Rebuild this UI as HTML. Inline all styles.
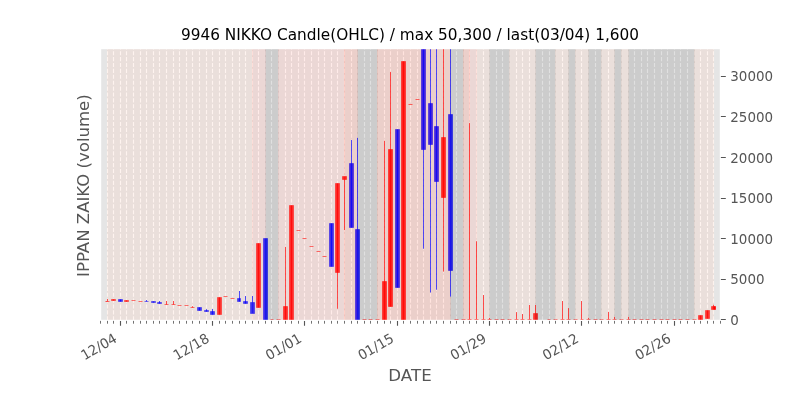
<!DOCTYPE html>
<html><head><meta charset="utf-8"><title>9946 NIKKO Candle(OHLC)</title>
<style>html,body{margin:0;padding:0;background:#fff}body{width:800px;height:400px;overflow:hidden}svg{display:block}</style>
</head><body>
<svg width="800" height="400" viewBox="0 0 800 400">
<rect x="0" y="0" width="800" height="400" fill="#ffffff"/>
<clipPath id="axclip"><rect x="100" y="48" width="620" height="272"/></clipPath>
<rect x="100" y="48" width="620" height="272" fill="#e5e5e5"/>
<g clip-path="url(#axclip)">
<g stroke="#ffffff" stroke-width="1.11" stroke-dasharray="4.11 1.78" fill="none">
<path d="M100.5 320.36V40"/>
<path d="M107.5 320.36V40"/>
<path d="M113.5 320.36V40"/>
<path d="M120.5 320.36V40"/>
<path d="M126.5 320.36V40"/>
<path d="M133.5 320.36V40"/>
<path d="M140.5 320.36V40"/>
<path d="M146.5 320.36V40"/>
<path d="M153.5 320.36V40"/>
<path d="M159.5 320.36V40"/>
<path d="M166.5 320.36V40"/>
<path d="M173.5 320.36V40"/>
<path d="M179.5 320.36V40"/>
<path d="M186.5 320.36V40"/>
<path d="M192.5 320.36V40"/>
<path d="M199.5 320.36V40"/>
<path d="M206.5 320.36V40"/>
<path d="M212.5 320.36V40"/>
<path d="M219.5 320.36V40"/>
<path d="M225.5 320.36V40"/>
<path d="M232.5 320.36V40"/>
<path d="M239.5 320.36V40"/>
<path d="M245.5 320.36V40"/>
<path d="M252.5 320.36V40"/>
<path d="M258.5 320.36V40"/>
<path d="M265.5 320.36V40"/>
<path d="M271.5 320.36V40"/>
<path d="M278.5 320.36V40"/>
<path d="M285.5 320.36V40"/>
<path d="M291.5 320.36V40"/>
<path d="M298.5 320.36V40"/>
<path d="M304.5 320.36V40"/>
<path d="M311.5 320.36V40"/>
<path d="M318.5 320.36V40"/>
<path d="M324.5 320.36V40"/>
<path d="M331.5 320.36V40"/>
<path d="M337.5 320.36V40"/>
<path d="M344.5 320.36V40"/>
<path d="M351.5 320.36V40"/>
<path d="M357.5 320.36V40"/>
<path d="M364.5 320.36V40"/>
<path d="M370.5 320.36V40"/>
<path d="M377.5 320.36V40"/>
<path d="M384.5 320.36V40"/>
<path d="M390.5 320.36V40"/>
<path d="M397.5 320.36V40"/>
<path d="M403.5 320.36V40"/>
<path d="M410.5 320.36V40"/>
<path d="M417.5 320.36V40"/>
<path d="M423.5 320.36V40"/>
<path d="M430.5 320.36V40"/>
<path d="M436.5 320.36V40"/>
<path d="M443.5 320.36V40"/>
<path d="M450.5 320.36V40"/>
<path d="M456.5 320.36V40"/>
<path d="M463.5 320.36V40"/>
<path d="M469.5 320.36V40"/>
<path d="M476.5 320.36V40"/>
<path d="M483.5 320.36V40"/>
<path d="M489.5 320.36V40"/>
<path d="M496.5 320.36V40"/>
<path d="M502.5 320.36V40"/>
<path d="M509.5 320.36V40"/>
<path d="M516.5 320.36V40"/>
<path d="M522.5 320.36V40"/>
<path d="M529.5 320.36V40"/>
<path d="M535.5 320.36V40"/>
<path d="M542.5 320.36V40"/>
<path d="M549.5 320.36V40"/>
<path d="M555.5 320.36V40"/>
<path d="M562.5 320.36V40"/>
<path d="M568.5 320.36V40"/>
<path d="M575.5 320.36V40"/>
<path d="M581.5 320.36V40"/>
<path d="M588.5 320.36V40"/>
<path d="M595.5 320.36V40"/>
<path d="M601.5 320.36V40"/>
<path d="M608.5 320.36V40"/>
<path d="M614.5 320.36V40"/>
<path d="M621.5 320.36V40"/>
<path d="M628.5 320.36V40"/>
<path d="M634.5 320.36V40"/>
<path d="M641.5 320.36V40"/>
<path d="M647.5 320.36V40"/>
<path d="M654.5 320.36V40"/>
<path d="M661.5 320.36V40"/>
<path d="M667.5 320.36V40"/>
<path d="M674.5 320.36V40"/>
<path d="M680.5 320.36V40"/>
<path d="M687.5 320.36V40"/>
<path d="M694.5 320.36V40"/>
<path d="M700.5 320.36V40"/>
<path d="M707.5 320.36V40"/>
<path d="M713.5 320.36V40"/>
<path d="M720.5 320.36V40"/>
</g>
<g fill="#ff0000" stroke="#ff0000" stroke-width="0.69" stroke-linejoin="miter">
<path d="M105.5 301.5H109.5"/>
<path d="M111.5 299.5H115.5V300.5H111.5Z"/>
<path d="M124.5 300.5H128.5V301.5H124.5Z"/>
<path d="M131.5 300.5H135.5"/>
<path d="M138.5 301.5H142.5"/>
<path d="M164.5 304.5H168.5"/>
<path d="M171.5 304.5H175.5"/>
<path d="M177.5 305.5H181.5"/>
<path d="M184.5 305.5H188.5"/>
<path d="M190.5 307.5H194.5"/>
<path d="M217.5 297.5H221.5V314.5H217.5Z"/>
<path d="M223.5 296.5H227.5"/>
<path d="M230.5 298.5H234.5"/>
<path d="M256.5 243.5H260.5V307.5H256.5Z"/>
<path d="M270.5 319.5H273.5"/>
<path d="M276.5 319.5H280.5"/>
<path d="M283.5 306.5H287.5V320.5H283.5Z"/>
<path d="M289.5 205.5H293.5V320.5H289.5Z"/>
<path d="M296.5 230.5H300.5"/>
<path d="M302.5 238.5H306.5"/>
<path d="M309.5 246.5H313.5"/>
<path d="M316.5 251.5H320.5"/>
<path d="M322.5 256.5H326.5"/>
<path d="M335.5 183.5H339.5V272.5H335.5Z"/>
<path d="M342.5 176.5H346.5V179.5H342.5Z"/>
<path d="M362.5 319.5H366.5"/>
<path d="M368.5 319.5H372.5"/>
<path d="M375.5 319.5H379.5"/>
<path d="M382.5 281.5H386.5V320.5H382.5Z"/>
<path d="M388.5 149.5H392.5V306.5H388.5Z"/>
<path d="M401.5 61.5H405.5V320.5H401.5Z"/>
<path d="M408.5 104.5H412.5"/>
<path d="M415.5 99.5H419.5"/>
<path d="M441.5 137.5H445.5V197.5H441.5Z"/>
<path d="M454.5 319.5H458.5"/>
<path d="M461.5 319.5H465.5"/>
<path d="M467.5 319.5H471.5"/>
<path d="M474.5 319.5H478.5"/>
<path d="M481.5 319.5H485.5"/>
<path d="M487.5 319.5H491.5"/>
<path d="M494.5 319.5H498.5"/>
<path d="M500.5 319.5H504.5"/>
<path d="M507.5 319.5H511.5"/>
<path d="M514.5 319.5H518.5"/>
<path d="M520.5 319.5H524.5"/>
<path d="M527.5 319.5H531.5"/>
<path d="M533.5 313.5H537.5V320.5H533.5Z"/>
<path d="M547.5 319.5H550.5"/>
<path d="M553.5 319.5H557.5"/>
<path d="M560.5 319.5H564.5"/>
<path d="M566.5 319.5H570.5"/>
<path d="M573.5 319.5H577.5"/>
<path d="M580.5 319.5H583.5"/>
<path d="M586.5 319.5H590.5"/>
<path d="M593.5 319.5H597.5"/>
<path d="M599.5 319.5H603.5"/>
<path d="M606.5 319.5H610.5"/>
<path d="M612.5 319.5H616.5"/>
<path d="M619.5 319.5H623.5"/>
<path d="M626.5 319.5H630.5"/>
<path d="M632.5 319.5H636.5"/>
<path d="M639.5 319.5H643.5"/>
<path d="M645.5 319.5H649.5"/>
<path d="M652.5 319.5H656.5"/>
<path d="M659.5 319.5H663.5"/>
<path d="M665.5 319.5H669.5"/>
<path d="M672.5 319.5H676.5"/>
<path d="M678.5 319.5H682.5"/>
<path d="M685.5 319.5H689.5"/>
<path d="M692.5 319.5H696.5"/>
<path d="M698.5 315.5H702.5V320.5H698.5Z"/>
<path d="M705.5 310.5H709.5V318.5H705.5Z"/>
<path d="M711.5 306.5H715.5V309.5H711.5Z"/>
</g>
<g fill="#0000ff" stroke="#0000ff" stroke-width="0.69" stroke-linejoin="miter">
<path d="M118.5 299.5H122.5V301.5H118.5Z"/>
<path d="M144.5 301.5H148.5"/>
<path d="M151.5 301.5H155.5V302.5H151.5Z"/>
<path d="M157.5 302.5H161.5V303.5H157.5Z"/>
<path d="M197.5 307.5H201.5V310.5H197.5Z"/>
<path d="M204.5 310.5H208.5V311.5H204.5Z"/>
<path d="M210.5 311.5H214.5V314.5H210.5Z"/>
<path d="M237.5 298.5H240.5V301.5H237.5Z"/>
<path d="M243.5 301.5H247.5V303.5H243.5Z"/>
<path d="M250.5 302.5H254.5V313.5H250.5Z"/>
<path d="M263.5 238.5H267.5V320.5H263.5Z"/>
<path d="M329.5 223.5H333.5V266.5H329.5Z"/>
<path d="M349.5 163.5H353.5V227.5H349.5Z"/>
<path d="M355.5 229.5H359.5V320.5H355.5Z"/>
<path d="M395.5 129.5H399.5V287.5H395.5Z"/>
<path d="M421.5 -60H425.5V149.5H421.5Z"/>
<path d="M428.5 103.5H432.5V144.5H428.5Z"/>
<path d="M434.5 126.5H438.5V181.5H434.5Z"/>
<path d="M448.5 114.5H452.5V270.5H448.5Z"/>
</g>
<path d="M107.5 40H252.5V330H107.5Z" fill="rgb(251,207,191)" fill-opacity="0.25" stroke="rgb(251,207,191)" stroke-opacity="0.25" stroke-width="0.69"/>
<path d="M252.5 40H265.5V330H252.5Z" fill="rgb(255,175,167)" fill-opacity="0.25" stroke="rgb(255,175,167)" stroke-opacity="0.25" stroke-width="0.69"/>
<path d="M265.5 40H278.5V330H265.5Z" fill="rgb(130,130,130)" fill-opacity="0.25" stroke="rgb(130,130,130)" stroke-opacity="0.25" stroke-width="0.69"/>
<path d="M278.5 40H344.5V330H278.5Z" fill="rgb(255,175,167)" fill-opacity="0.25" stroke="rgb(255,175,167)" stroke-opacity="0.25" stroke-width="0.69"/>
<path d="M344.5 40H357.5V330H344.5Z" fill="rgb(255,143,123)" fill-opacity="0.25" stroke="rgb(255,143,123)" stroke-opacity="0.25" stroke-width="0.69"/>
<path d="M357.5 40H377.5V330H357.5Z" fill="rgb(130,130,130)" fill-opacity="0.25" stroke="rgb(130,130,130)" stroke-opacity="0.25" stroke-width="0.69"/>
<path d="M377.5 40H450.5V330H377.5Z" fill="rgb(255,143,123)" fill-opacity="0.25" stroke="rgb(255,143,123)" stroke-opacity="0.25" stroke-width="0.69"/>
<path d="M450.5 40H463.5V330H450.5Z" fill="rgb(130,130,130)" fill-opacity="0.25" stroke="rgb(130,130,130)" stroke-opacity="0.25" stroke-width="0.69"/>
<path d="M463.5 40H469.5V330H463.5Z" fill="rgb(255,143,123)" fill-opacity="0.25" stroke="rgb(255,143,123)" stroke-opacity="0.25" stroke-width="0.69"/>
<path d="M469.5 40H476.5V330H469.5Z" fill="rgb(255,175,167)" fill-opacity="0.25" stroke="rgb(255,175,167)" stroke-opacity="0.25" stroke-width="0.69"/>
<path d="M476.5 40H489.5V330H476.5Z" fill="rgb(251,207,191)" fill-opacity="0.25" stroke="rgb(251,207,191)" stroke-opacity="0.25" stroke-width="0.69"/>
<path d="M489.5 40H509.5V330H489.5Z" fill="rgb(130,130,130)" fill-opacity="0.25" stroke="rgb(130,130,130)" stroke-opacity="0.25" stroke-width="0.69"/>
<path d="M509.5 40H535.5V330H509.5Z" fill="rgb(251,207,191)" fill-opacity="0.25" stroke="rgb(251,207,191)" stroke-opacity="0.25" stroke-width="0.69"/>
<path d="M535.5 40H555.5V330H535.5Z" fill="rgb(130,130,130)" fill-opacity="0.25" stroke="rgb(130,130,130)" stroke-opacity="0.25" stroke-width="0.69"/>
<path d="M555.5 40H568.5V330H555.5Z" fill="rgb(251,207,191)" fill-opacity="0.25" stroke="rgb(251,207,191)" stroke-opacity="0.25" stroke-width="0.69"/>
<path d="M568.5 40H575.5V330H568.5Z" fill="rgb(130,130,130)" fill-opacity="0.25" stroke="rgb(130,130,130)" stroke-opacity="0.25" stroke-width="0.69"/>
<path d="M575.5 40H588.5V330H575.5Z" fill="rgb(251,207,191)" fill-opacity="0.25" stroke="rgb(251,207,191)" stroke-opacity="0.25" stroke-width="0.69"/>
<path d="M588.5 40H601.5V330H588.5Z" fill="rgb(130,130,130)" fill-opacity="0.25" stroke="rgb(130,130,130)" stroke-opacity="0.25" stroke-width="0.69"/>
<path d="M601.5 40H614.5V330H601.5Z" fill="rgb(251,207,191)" fill-opacity="0.25" stroke="rgb(251,207,191)" stroke-opacity="0.25" stroke-width="0.69"/>
<path d="M614.5 40H621.5V330H614.5Z" fill="rgb(130,130,130)" fill-opacity="0.25" stroke="rgb(130,130,130)" stroke-opacity="0.25" stroke-width="0.69"/>
<path d="M621.5 40H628.5V330H621.5Z" fill="rgb(251,207,191)" fill-opacity="0.25" stroke="rgb(251,207,191)" stroke-opacity="0.25" stroke-width="0.69"/>
<path d="M628.5 40H694.5V330H628.5Z" fill="rgb(130,130,130)" fill-opacity="0.25" stroke="rgb(130,130,130)" stroke-opacity="0.25" stroke-width="0.69"/>
<path d="M694.5 40H713.5V330H694.5Z" fill="rgb(251,207,191)" fill-opacity="0.25" stroke="rgb(251,207,191)" stroke-opacity="0.25" stroke-width="0.69"/>
<g stroke="#ff0000" stroke-width="0.69" fill="none">
<path d="M107.5 299V301.5"/>
<path d="M113.5 299.5V300.5"/>
<path d="M126.5 300.5V301.5"/>
<path d="M166.5 301V304.5"/>
<path d="M173.5 301V304.5"/>
<path d="M192.5 306.2V307.5"/>
<path d="M219.5 297.5V314.5"/>
<path d="M258.5 243.5V307.5"/>
<path d="M285.5 246.9V320.5"/>
<path d="M291.5 205.5V320.5"/>
<path d="M337.5 183.5V308.75"/>
<path d="M344.5 176.5V230"/>
<path d="M384.5 140.8V320.5"/>
<path d="M390.5 71.9V306.5"/>
<path d="M403.5 61.5V320.5"/>
<path d="M443.5 -60V271.6"/>
<path d="M469.5 123.1V319.5"/>
<path d="M476.5 241.25V319.5"/>
<path d="M483.5 295V319.5"/>
<path d="M489.5 318V319.5"/>
<path d="M516.5 312.1V319.5"/>
<path d="M522.5 314V319.5"/>
<path d="M529.5 305V319.5"/>
<path d="M535.5 305V320.5"/>
<path d="M562.5 301V319.5"/>
<path d="M568.5 308.1V319.5"/>
<path d="M581.5 301V319.5"/>
<path d="M588.5 317.9V319.5"/>
<path d="M608.5 311.9V319.5"/>
<path d="M614.5 316.9V319.5"/>
<path d="M628.5 316.9V319.5"/>
<path d="M700.5 315.5V320.5"/>
<path d="M707.5 310.5V318.5"/>
<path d="M713.5 304.75V309.5"/>
</g>
<g stroke="#0000ff" stroke-width="0.69" fill="none">
<path d="M120.5 299.5V301.5"/>
<path d="M146.5 300V301.5"/>
<path d="M153.5 301.5V302.5"/>
<path d="M159.5 301V303.5"/>
<path d="M199.5 307.5V310.5"/>
<path d="M206.5 309.2V311.5"/>
<path d="M212.5 309V314.5"/>
<path d="M239.5 291V301.5"/>
<path d="M245.5 296V303.5"/>
<path d="M252.5 296V313.5"/>
<path d="M265.5 238.5V320.5"/>
<path d="M331.5 223.5V266.5"/>
<path d="M351.5 140V227.5"/>
<path d="M357.5 137.9V320.5"/>
<path d="M397.5 129.5V287.5"/>
<path d="M423.5 -60V248.75"/>
<path d="M430.5 -60V292.5"/>
<path d="M436.5 -60V289.75"/>
<path d="M450.5 -60V296.6"/>
</g>
</g>
<rect x="100.5" y="48.5" width="620" height="272" fill="none" stroke="#ffffff" stroke-width="1.39"/>
<g stroke="#555555" fill="none">
<path d="M120.5 320.9V325.8M212.5 320.9V325.8M304.5 320.9V325.8M397.5 320.9V325.8M489.5 320.9V325.8M581.5 320.9V325.8M674.5 320.9V325.8" stroke-width="1.11"/>
<path d="M100.5 320.9V323.7M107.5 320.9V323.7M113.5 320.9V323.7M126.5 320.9V323.7M133.5 320.9V323.7M140.5 320.9V323.7M146.5 320.9V323.7M153.5 320.9V323.7M159.5 320.9V323.7M166.5 320.9V323.7M173.5 320.9V323.7M179.5 320.9V323.7M186.5 320.9V323.7M192.5 320.9V323.7M199.5 320.9V323.7M206.5 320.9V323.7M219.5 320.9V323.7M225.5 320.9V323.7M232.5 320.9V323.7M239.5 320.9V323.7M245.5 320.9V323.7M252.5 320.9V323.7M258.5 320.9V323.7M265.5 320.9V323.7M271.5 320.9V323.7M278.5 320.9V323.7M285.5 320.9V323.7M291.5 320.9V323.7M298.5 320.9V323.7M311.5 320.9V323.7M318.5 320.9V323.7M324.5 320.9V323.7M331.5 320.9V323.7M337.5 320.9V323.7M344.5 320.9V323.7M351.5 320.9V323.7M357.5 320.9V323.7M364.5 320.9V323.7M370.5 320.9V323.7M377.5 320.9V323.7M384.5 320.9V323.7M390.5 320.9V323.7M403.5 320.9V323.7M410.5 320.9V323.7M417.5 320.9V323.7M423.5 320.9V323.7M430.5 320.9V323.7M436.5 320.9V323.7M443.5 320.9V323.7M450.5 320.9V323.7M456.5 320.9V323.7M463.5 320.9V323.7M469.5 320.9V323.7M476.5 320.9V323.7M483.5 320.9V323.7M496.5 320.9V323.7M502.5 320.9V323.7M509.5 320.9V323.7M516.5 320.9V323.7M522.5 320.9V323.7M529.5 320.9V323.7M535.5 320.9V323.7M542.5 320.9V323.7M549.5 320.9V323.7M555.5 320.9V323.7M562.5 320.9V323.7M568.5 320.9V323.7M575.5 320.9V323.7M588.5 320.9V323.7M595.5 320.9V323.7M601.5 320.9V323.7M608.5 320.9V323.7M614.5 320.9V323.7M621.5 320.9V323.7M628.5 320.9V323.7M634.5 320.9V323.7M641.5 320.9V323.7M647.5 320.9V323.7M654.5 320.9V323.7M661.5 320.9V323.7M667.5 320.9V323.7M680.5 320.9V323.7M687.5 320.9V323.7M694.5 320.9V323.7M700.5 320.9V323.7M707.5 320.9V323.7M713.5 320.9V323.7M720.5 320.9V323.7" stroke-width="0.83"/>
<path d="M720.9 319.5H725.8M720.9 279.5H725.8M720.9 238.5H725.8M720.9 198.5H725.8M720.9 157.5H725.8M720.9 116.5H725.8M720.9 76.5H725.8" stroke-width="1.11"/>
</g>
<g font-family="'DejaVu Sans', 'Liberation Sans', sans-serif" fill="#555555">
<g font-size="13.889px">
<text transform="translate(84.39 360.5) rotate(-30) scale(0.97 1)">12/04</text>
<text transform="translate(176.73 360.5) rotate(-30) scale(0.97 1)">12/18</text>
<text transform="translate(269.07 360.5) rotate(-30) scale(0.97 1)">01/01</text>
<text transform="translate(361.41 360.5) rotate(-30) scale(0.97 1)">01/15</text>
<text transform="translate(453.75 360.5) rotate(-30) scale(0.97 1)">01/29</text>
<text transform="translate(546.09 360.5) rotate(-30) scale(0.97 1)">02/12</text>
<text transform="translate(638.43 360.5) rotate(-30) scale(0.97 1)">02/26</text>
<text transform="translate(730.3 325.1) scale(0.97 1)">0</text>
<text transform="translate(730.3 284.47) scale(0.97 1)">5000</text>
<text transform="translate(730.3 243.83) scale(0.97 1)">10000</text>
<text transform="translate(730.3 203.2) scale(0.97 1)">15000</text>
<text transform="translate(730.3 162.57) scale(0.97 1)">20000</text>
<text transform="translate(730.3 121.93) scale(0.97 1)">25000</text>
<text transform="translate(730.3 81.3) scale(0.97 1)">30000</text>
</g>
<g font-size="16.667px" text-anchor="middle">
<text x="410" y="380.7">DATE</text>
<text transform="translate(88.6 185.6) rotate(-90) scale(0.993 1)">IPPAN ZAIKO (volume)</text>
<text fill="#000000" transform="translate(410 39.67) scale(0.92 1)">9946 NIKKO Candle(OHLC) / max 50,300 / last(03/04) 1,600</text>
</g></g>
</svg>
</body></html>
